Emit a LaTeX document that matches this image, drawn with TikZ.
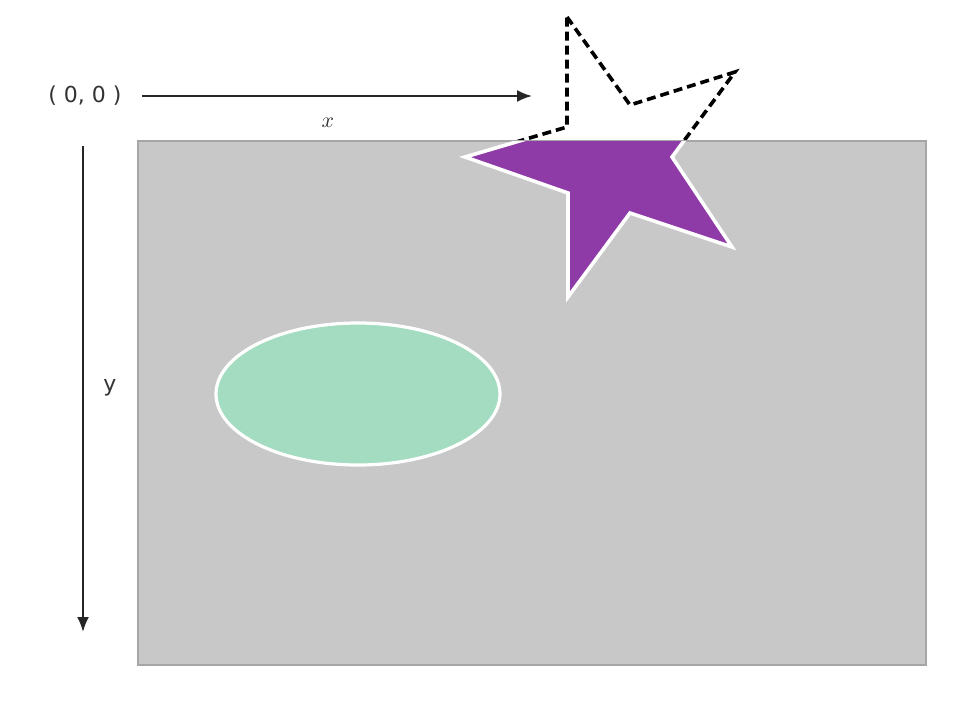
\documentclass[tikz,border=0pt]{standalone}
\usepackage{fontspec}
\setsansfont{DejaVu Sans}
\usepackage{xcolor}
\usetikzlibrary{arrows.meta}
\definecolor{canvasgray}{HTML}{C8C8C8}
\definecolor{starpurple}{HTML}{8E3BA8}
\definecolor{mintgreen}{HTML}{A3DCC0}
\newcommand\starpts{(567,17) -- (630,105) -- (735,72) -- (672,157) -- (732,247) -- (630,213) -- (568,297) -- (568,193) -- (465,157) -- (567,127) -- cycle}

\begin{document}
\begin{tikzpicture}[x=0.5pt, y=-0.5pt,
  axis/.style={draw=black!85, line width=1pt, -{Latex[length=7.5pt,width=6pt]}},
  lbl/.style={font=\sffamily\fontsize{11}{13}\selectfont, text=black!80}]
\useasboundingbox (0,0) rectangle (966,703);
\draw[line width=1.8pt, dash pattern=on 4.5pt off 2.5pt] \starpts;
\path[draw=black!35, fill=canvasgray, line width=0.6pt] (138,141) rectangle (926,665);
\begin{scope}
\clip (138,141) rectangle (926,665);
\path[draw=white, line width=1.8pt, fill=starpurple] \starpts;
\end{scope}
\path[draw=white, line width=1.6pt, fill=mintgreen] (358,394) ellipse [x radius=142, y radius=71];
\node[lbl] (origin) at (85,96) {( 0, 0 )};
\node[text=black!80, font=\fontsize{11}{13}\selectfont] (xlbl) at (328,123) {$x$};
\node[lbl] (ylbl) at (110,388) {y};
\coordinate (xend) at (532,96);
\coordinate (ystart) at (83,146);
\coordinate (yend) at (83,632);
\draw[axis, shorten <=6.5pt] (origin.east) -- (xend);
\draw[axis] (ystart) -- (yend);
\end{tikzpicture}
\end{document}
